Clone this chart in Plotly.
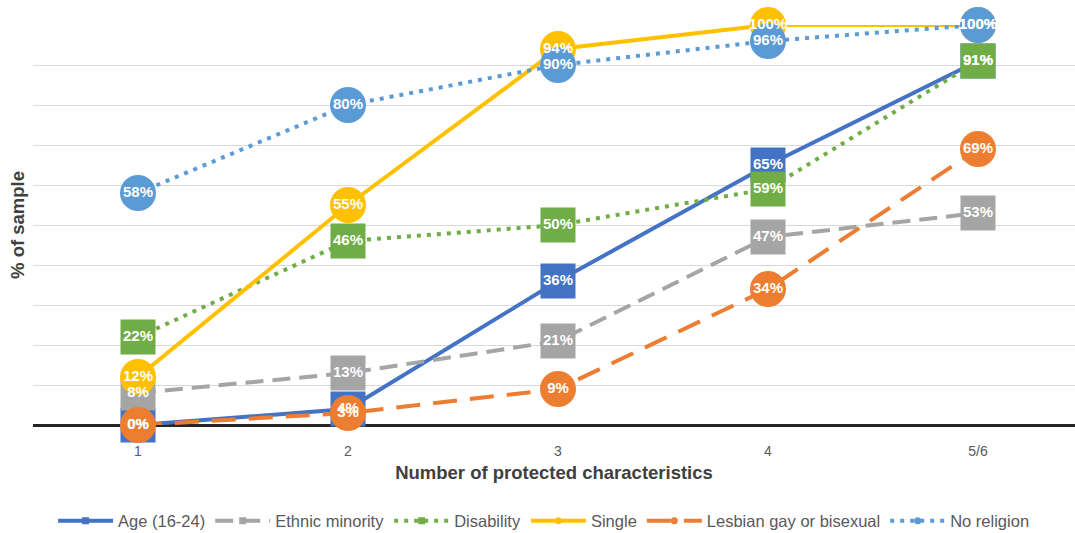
import plotly.graph_objects as go

# Share of sample with each characteristic, by number of protected characteristics held
categories = ["1", "2", "3", "4", "5/6"]

age_16_24 = [0, 4, 36, 65, 91]
ethnic_minority = [8, 13, 21, 47, 53]
disability = [22, 46, 50, 59, 91]
single = [12, 55, 94, 100, 100]
lgb = [0, 3, 9, 34, 69]
no_religion = [58, 80, 90, 96, 100]

series = [
    ("Age (16-24)", age_16_24, "#4472C4", "solid", "square", 35),
    ("Ethnic minority", ethnic_minority, "#A5A5A5", "18px,9px", "square", 35),
    ("Disability", disability, "#70AD47", "4px,6px", "square", 35),
    ("Single", single, "#FFC000", "solid", "circle", 36),
    ("Lesbian gay or bisexual", lgb, "#ED7D31", "24px,13px", "circle", 36),
    ("No religion", no_religion, "#5B9BD5", "4px,6px", "circle", 36),
]

fig = go.Figure()

# Lines and markers
for name, vals, color, dash, symbol, size in series:
    fig.add_trace(go.Scatter(
        x=categories, y=vals, mode="lines+markers", name=name,
        line=dict(color=color, width=4, dash=dash),
        marker=dict(symbol=symbol, size=size, color=color, line=dict(width=0)),
        showlegend=False, cliponaxis=False, hoverinfo="skip",
    ))

# Value labels drawn above every marker
for name, vals, color, dash, symbol, size in series:
    fig.add_trace(go.Scatter(
        x=categories, y=vals, mode="text",
        text=[f"{v}%" for v in vals], textposition="middle center",
        textfont=dict(family="Liberation Sans", size=15, color="white", weight="bold"),
        showlegend=False, cliponaxis=False, hoverinfo="skip",
    ))

# Legend entries with small markers
for name, vals, color, dash, symbol, size in series:
    fig.add_trace(go.Scatter(
        x=[None], y=[None], mode="lines+markers", name=name,
        line=dict(color=color, width=4, dash=dash),
        marker=dict(symbol=symbol, size=7, color=color),
        showlegend=True,
    ))

fig.update_layout(
    width=1075, height=533,
    margin=dict(l=33, r=0, t=25, b=108, autoexpand=False),
    paper_bgcolor="white", plot_bgcolor="white",
    font=dict(family="Liberation Sans", color="#595959"),
    xaxis=dict(
        type="category", range=[-0.5, 4.462], showgrid=False, automargin=False,
        ticks="", ticklabelstandoff=16, tickfont=dict(size=14, color="#595959"),
        title=dict(text="<b>Number of protected characteristics</b>",
                   font=dict(size=18.5, color="#404040"), standoff=8),
        fixedrange=True,
    ),
    yaxis=dict(
        range=[0, 100], dtick=10, showticklabels=False, automargin=False,
        gridcolor="#D9D9D9", gridwidth=1.3,
        zeroline=True, zerolinecolor="#262626", zerolinewidth=2.5,
        title=dict(text="<b>% of sample</b>", font=dict(size=18.5, color="#404040"),
                   standoff=2),
        fixedrange=True,
    ),
    legend=dict(
        orientation="h", x=0.49, xanchor="center",
        yref="container", y=(533 - 521) / 533, yanchor="middle",
        font=dict(size=16.5, color="#595959"), itemwidth=55,
    ),
)

fig.write_html("out.html")
